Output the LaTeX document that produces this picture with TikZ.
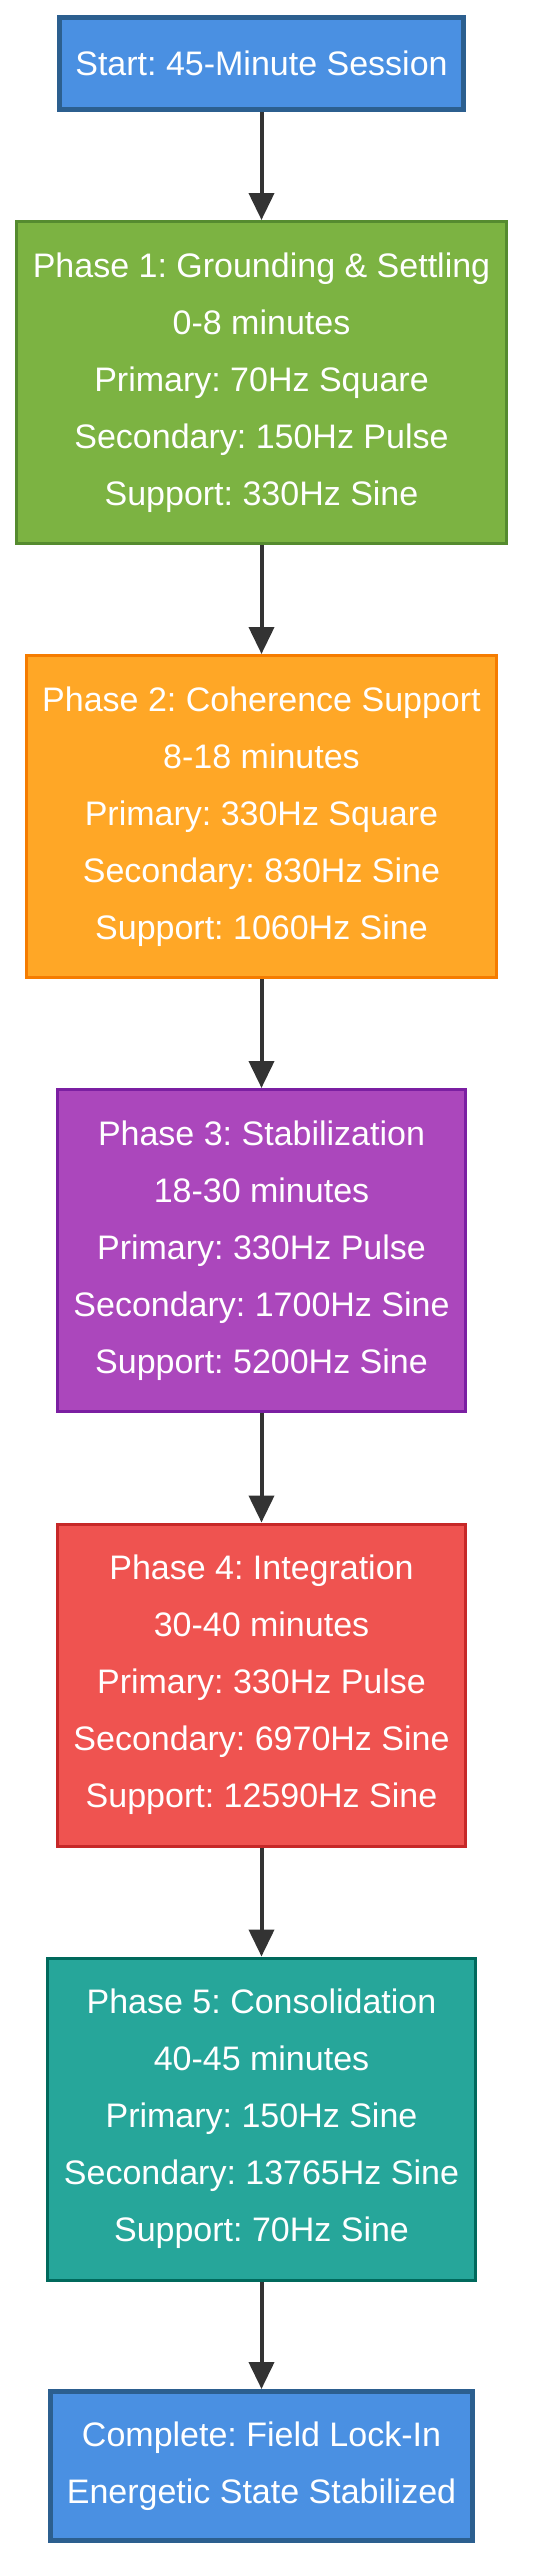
\documentclass[tikz,border=0pt]{standalone}
\usepackage{fontspec}
\setmainfont{Liberation Sans}
\usetikzlibrary{arrows.meta}
\frenchspacing
\definecolor{startfill}{HTML}{4A90E2}
\definecolor{startline}{HTML}{2C5F8F}
\definecolor{pafill}{HTML}{7CB342}
\definecolor{paline}{HTML}{558B2F}
\definecolor{pbfill}{HTML}{FFA726}
\definecolor{pbline}{HTML}{F57C00}
\definecolor{pcfill}{HTML}{AB47BC}
\definecolor{pcline}{HTML}{7B1FA2}
\definecolor{pdfill}{HTML}{EF5350}
\definecolor{pdline}{HTML}{C62828}
\definecolor{pefill}{HTML}{26A69A}
\definecolor{peline}{HTML}{00695C}
\definecolor{arrowcol}{HTML}{333333}
\tikzset{
  boxbase/.style={rectangle, text=white, align=center, inner sep=0pt,
    font=\fontsize{34}{57}\selectfont\frenchspacing},
  endbox/.style={boxbase, fill=startfill, draw=startline, line width=5pt},
  phasebox/.style 2 args={boxbase, fill=#1, draw=#2, line width=3pt, minimum height=322pt},
  arr/.style={draw=arrowcol, line width=4pt, -{Triangle[length=27pt,width=25pt]}}
}
\begin{document}
\begin{tikzpicture}[x=1pt,y=-1pt]
\useasboundingbox (0,0) rectangle (553,2560);
\node[endbox, minimum width=404pt, minimum height=92pt] (start) at (261.5,63.5) {Start: 45-Minute Session};
\node[phasebox={pafill}{paline}, minimum width=490pt] (p1) at (261.5,382.5)
  {Phase 1: Grounding \& Settling\\0-8 minutes\\Primary: 70Hz Square\\Secondary: 150Hz Pulse\\Support: 330Hz Sine};
\node[phasebox={pbfill}{pbline}, minimum width=470pt] (p2) at (261.5,816.5)
  {Phase 2: Coherence Support\\8-18 minutes\\Primary: 330Hz Square\\Secondary: 830Hz Sine\\Support: 1060Hz Sine};
\node[phasebox={pcfill}{pcline}, minimum width=408pt] (p3) at (261.5,1250.5)
  {Phase 3: Stabilization\\18-30 minutes\\Primary: 330Hz Pulse\\Secondary: 1700Hz Sine\\Support: 5200Hz Sine};
\node[phasebox={pdfill}{pdline}, minimum width=408pt] (p4) at (261.5,1685)
  {Phase 4: Integration\\30-40 minutes\\Primary: 330Hz Pulse\\Secondary: 6970Hz Sine\\Support: 12590Hz Sine};
\node[phasebox={pefill}{peline}, minimum width=428pt] (p5) at (261.5,2119)
  {Phase 5: Consolidation\\40-45 minutes\\Primary: 150Hz Sine\\Secondary: 13765Hz Sine\\Support: 70Hz Sine};
\node[endbox, minimum width=422pt, minimum height=149pt] (done) at (261.5,2466)
  {Complete: Field Lock-In\\Energetic State Stabilized};
\draw[arr] (start) -- (p1);
\draw[arr] (p1) -- (p2);
\draw[arr] (p2) -- (p3);
\draw[arr] (p3) -- (p4);
\draw[arr] (p4) -- (p5);
\draw[arr] (p5) -- (done);
\end{tikzpicture}
\end{document}
